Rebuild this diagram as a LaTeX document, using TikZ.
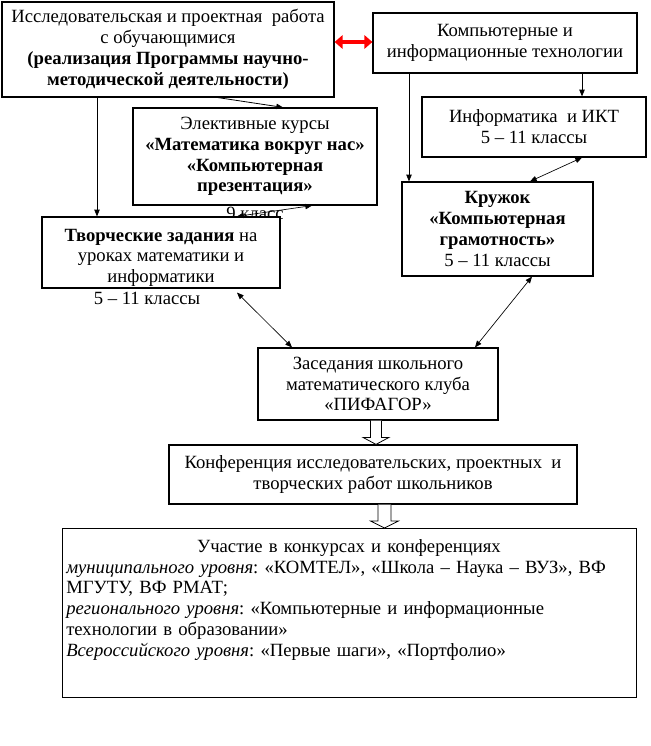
\documentclass[tikz,border=0pt]{standalone}
\usepackage{fontspec}
\setmainfont{Liberation Serif}
\usetikzlibrary{arrows.meta,calc}
\frenchspacing

\begin{document}
\begin{tikzpicture}[x=0.75pt,y=-0.75pt,
    every node/.style={font=\fontsize{14}{15.6}\selectfont},
    box/.style={draw,line width=0.9pt,fill=white,align=center,inner sep=0pt},
    arr/.style={line width=0.6pt,-{Triangle[length=5pt,width=4pt]}},
    darr/.style={line width=0.5pt,{Triangle[length=5pt,width=4pt]}-{Triangle[length=5pt,width=4pt]}},
    hollow/.style={line width=0.6pt,fill=white}]
\useasboundingbox (0,0) rectangle (650,746);
% boxes
\node[box,minimum width=249pt,minimum height=71.25pt] (b1) at (168,49.5)
    {Исследовательская и проектная\ \ работа\\с обучающимися\\\textbf{(реализация Программы научно-}\\\textbf{методической деятельности)}};
\node[box,minimum width=198pt,minimum height=45pt] (b2) at (505,43)
    {Компьютерные и\\информационные технологии};
\node[box,minimum width=168pt,minimum height=45pt] (b3) at (534,127)
    {Информатика\ \ и ИКТ\\5 – 11 классы};
\node[box,minimum width=183pt,minimum height=72.75pt] (b5) at (255,156.5)
    {Элективные курсы\\\textbf{«Математика вокруг нас»}\\\textbf{«Компьютерная}\\\textbf{презентация»}};
\node (n9) at (255,213) {9 класс};
\node[box,minimum width=178.5pt,minimum height=53.25pt] (b6) at (161,252.5)
    {\rule{0pt}{17pt}\textbf{Творческие задания} на\\уроках математики и\\информатики};
\node (n511) at (147,298) {5 – 11 классы};
\node[box,minimum width=143.25pt,minimum height=70.5pt] (b4) at (497.5,229)
    {\textbf{Кружок}\\\textbf{«Компьютерная}\\\textbf{грамотность»}\\5 – 11 классы};
\node[box,minimum width=180pt,minimum height=54pt] (b7) at (378,384)
    {Заседания школьного\\математического клуба\\«ПИФАГОР»};
\node[box,minimum width=306pt,minimum height=44.25pt] (b8) at (373,474.5)
    {Конференция исследовательских, проектных\ \ и\\творческих работ школьников};
\node[box,anchor=north west,minimum width=430.5pt,minimum height=126.75pt] (b9) at (62,528) {};
\node[anchor=north west,inner sep=0pt,text width=424pt,align=left] (b9t) at (66,539)
    {{\centering Участие в конкурсах и конференциях\par}
     \textit{муниципального уровня}: «КОМТЕЛ», «Школа – Наука – ВУЗ», ВФ\\
     МГУТУ, ВФ РМАТ;\\
     \textit{регионального уровня}: «Компьютерные и информационные\\
     технологии в образовании»\\
     \textit{Всероссийского уровня}: «Первые шаги», «Портфолио»};
% connectors
\draw[red,line width=3pt,{Triangle[length=6pt,width=10pt]}-{Triangle[length=6pt,width=10pt]}]
    (b1.east |- 0,42) -- (b2.west |- 0,42);
\draw[arr] (218,0 |- b1.south) -- (283,0 |- b5.north);
\draw[arr] (97,0 |- b1.south) -- (97,0 |- b6.north);
\draw[arr] (409,0 |- b2.south) -- (409,0 |- b4.north);
\draw[arr] (582,0 |- b2.south) -- (582,0 |- b3.north);
\draw[darr] (582,0 |- b3.south) -- (530,0 |- b4.north);
\draw[darr] (312,0 |- b5.south) -- (237,0 |- b6.north);
\draw[darr] ($(237,0 |- b6.south)+(0,4)$) -- (292,0 |- b7.north);
\draw[darr] (532,0 |- b4.south) -- (475,0 |- b7.north);
% hollow arrows
\foreach \cx/\p/\q/\w/\h in {376/b7/b8/5.5/13,384.5/b8/b9/6.5/14}{
    \coordinate (top) at (\cx,0 |- \p.south);
    \coordinate (tip) at (\cx,0 |- \q.north);
    \draw[hollow] ($(top)+(-\w,0)$) -- ($(tip)+(-\w,-7)$) -- ($(tip)+(-\h,-7)$) -- (tip)
        -- ($(tip)+(\h,-7)$) -- ($(tip)+(\w,-7)$) -- ($(top)+(\w,0)$);
}
\end{tikzpicture}
\end{document}
